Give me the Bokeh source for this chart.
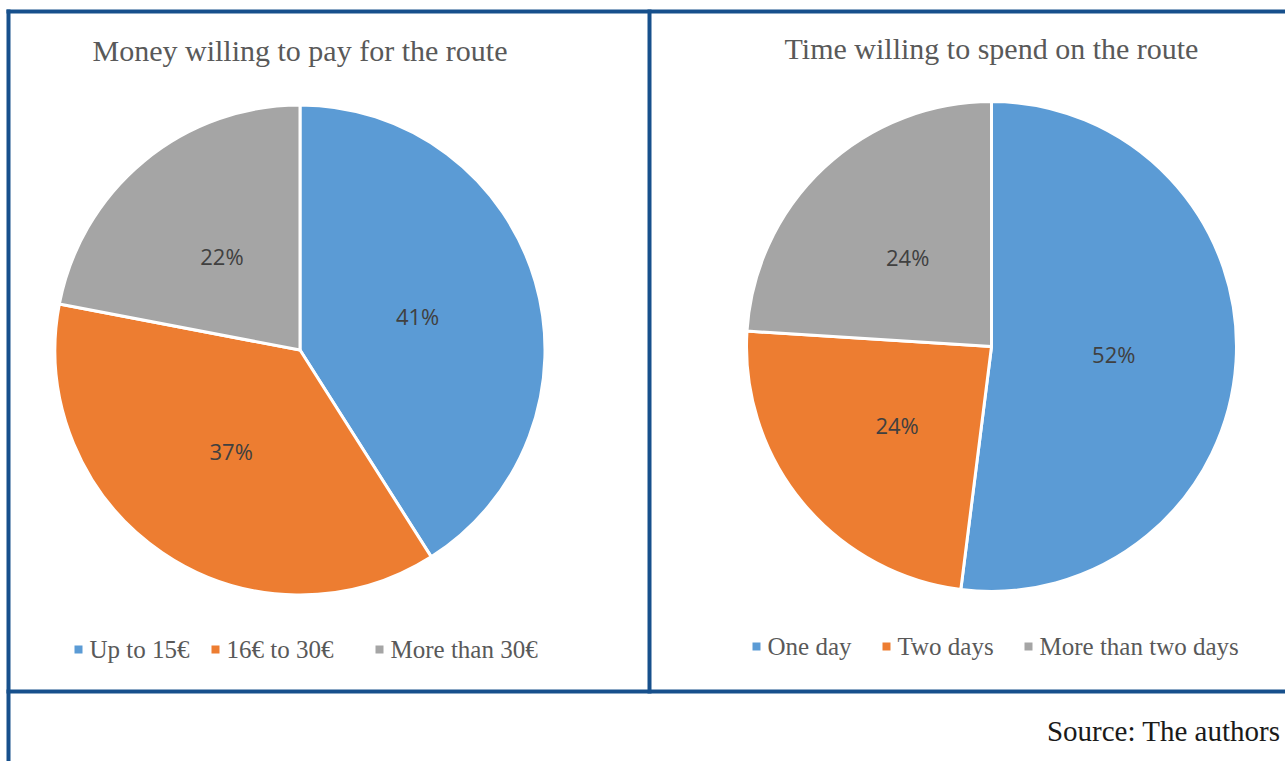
import math
from bokeh.plotting import figure
from bokeh.models import Range1d
from bokeh.core.properties import value
from bokeh.embed import file_html
from bokeh.resources import INLINE

# ---- data ----
money_title = "Money willing to pay for the route"
money_cats = ["Up to 15€", "16€ to 30€", "More than 30€"]
money_vals = [41, 37, 22]

time_title = "Time willing to spend on the route"
time_cats = ["One day", "Two days", "More than two days"]
time_vals = [52, 24, 24]

colors = ["#5B9BD5", "#ED7D31", "#A5A5A5"]
source_text = "Source: The authors"

# ---- layout (screen pixel coords, y downward in window) ----
W, H = 1285, 761


def Y(sy):
    return H - sy  # convert window y to data y


p = figure(width=W, height=H, output_backend="svg", toolbar_location=None,
           x_range=Range1d(0, W), y_range=Range1d(0, H),
           min_border=0)
p.axis.visible = False
p.grid.visible = False
p.outline_line_color = None
p.background_fill_color = "white"
p.border_fill_color = "white"

border = "#17508C"
# table borders
p.line([6, 1285], [Y(11), Y(11)], line_color=border, line_width=4)
p.line([6, 1285], [Y(691), Y(691)], line_color=border, line_width=4)
p.line([8, 8], [Y(9), Y(761)], line_color=border, line_width=4)
p.line([649, 649], [Y(9), Y(693)], line_color=border, line_width=4)

SERIF = value("Liberation Serif")


def draw_pie(cx, cy, r, title, title_y, cats, vals, legend_y, legend_x):
    total = float(sum(vals))
    cum = 0.0
    starts, ends, lx, ly, labels = [], [], [], [], []
    for v in vals:
        a0 = math.pi / 2 - 2 * math.pi * cum / total
        cum += v
        a1 = math.pi / 2 - 2 * math.pi * cum / total
        starts.append(a0)
        ends.append(a1)
        mid = (a0 + a1) / 2
        lx.append(cx + 0.5 * r * math.cos(mid))
        ly.append(Y(cy) + 0.5 * r * math.sin(mid))
        labels.append(f"{v}%")
    p.wedge(x=[cx] * len(vals), y=[Y(cy)] * len(vals), radius=r,
            radius_units="screen", start_angle=starts, end_angle=ends,
            direction="clock", fill_color=colors, line_color="white",
            line_width=3)
    p.text(x=lx, y=ly, text=labels, text_align="center",
           text_baseline="middle", text_color="#404040",
           text_font=value("Open Sans"), text_font_size="22px")
    p.text(x=[cx], y=[Y(title_y)], text=[title], text_align="center",
           text_baseline="middle", text_color="#595959",
           text_font=SERIF, text_font_size="30px")
    # legend
    p.scatter(x=[x - 11 for x in legend_x], y=[Y(legend_y)] * len(cats),
              marker="square", size=8, fill_color=colors, line_color=None)
    p.text(x=legend_x, y=[Y(legend_y)] * len(cats), text=cats,
           text_align="left", text_baseline="middle", text_color="#595959",
           text_font=SERIF, text_font_size="25px")


draw_pie(299.5, 349.5, 245, money_title, 50, money_cats, money_vals, 649,
         [89, 226, 390])
draw_pie(991, 346, 245, time_title, 48, time_cats, time_vals, 646,
         [767, 897, 1039])

p.text(x=[1280], y=[Y(730)], text=[source_text], text_align="right",
       text_baseline="middle", text_color="#1a1a1a", text_font=SERIF,
       text_font_size="29px")

open("out.html", "w").write(file_html(p, INLINE))
